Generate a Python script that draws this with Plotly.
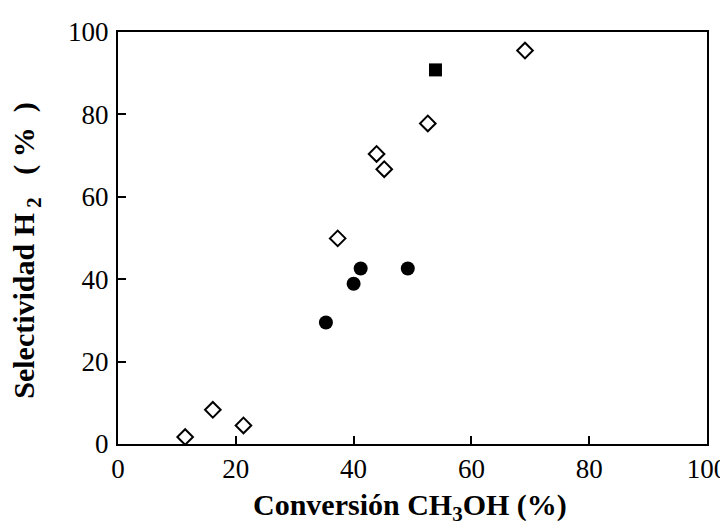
import plotly.graph_objects as go

# Open diamonds
dia_x = [11.4, 16.1, 21.3, 37.3, 43.9, 45.2, 52.6, 69.1]
dia_y = [1.7, 8.3, 4.5, 49.9, 70.4, 66.7, 77.8, 95.5]
# Filled circles
cir_x = [35.3, 40.0, 41.2, 49.2]
cir_y = [29.5, 38.9, 42.6, 42.6]
# Filled square
sq_x = [53.9]
sq_y = [90.8]

tick_vals = [0, 20, 40, 60, 80, 100]
tick_text = ["0", "20", "40", "60", "80", "100"]

x_title = "<b>Conversión CH<sub>3</sub>OH (%)</b>"
y_title = "<b>Selectividad H<sub>&nbsp;2</sub>&nbsp;&nbsp;&nbsp;(&nbsp;%&nbsp;&nbsp;)</b>"

FONT = "Liberation Serif, Times New Roman, serif"

fig = go.Figure()
fig.add_trace(go.Scatter(x=dia_x, y=dia_y, mode="markers",
                         marker=dict(symbol="diamond-open", size=12, color="black",
                                     line=dict(width=2, color="black"))))
fig.add_trace(go.Scatter(x=cir_x, y=cir_y, mode="markers",
                         marker=dict(symbol="circle", size=14, color="black")))
fig.add_trace(go.Scatter(x=sq_x, y=sq_y, mode="markers",
                         marker=dict(symbol="square", size=13, color="black")))

axis_common = dict(
    range=[0, 100], tickmode="array", tickvals=tick_vals, ticktext=tick_text,
    ticks="inside", ticklen=8, tickwidth=1.5, tickcolor="black",
    showline=True, linewidth=2, linecolor="black", mirror=True,
    showgrid=False, zeroline=False, automargin=False,
    tickfont=dict(family=FONT, size=27, color="black"),
)

fig.update_layout(
    width=720, height=518,
    margin=dict(l=110, r=20.5, t=24, b=81.5),
    paper_bgcolor="white", plot_bgcolor="white",
    showlegend=False,
    xaxis=dict(**axis_common, ticklabelstandoff=0),
    yaxis=dict(**axis_common, ticklabelstandoff=2),
    annotations=[
        dict(text=x_title, xref="paper", yref="paper", x=0.5, y=0,
             xanchor="center", yanchor="middle", xshift=-3, yshift=-63,
             showarrow=False, font=dict(family=FONT, size=30, color="black")),
        dict(text=y_title, xref="paper", yref="paper", x=0, y=0.469,
             xanchor="center", yanchor="middle", xshift=-92, textangle=-90,
             showarrow=False, font=dict(family=FONT, size=30, color="black")),
    ],
)

fig.write_html("out.html")
